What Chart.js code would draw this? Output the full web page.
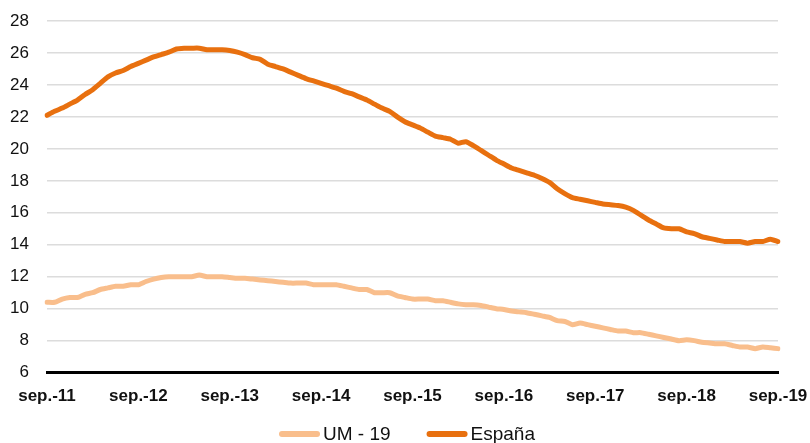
<!DOCTYPE html>
<html>
<head>
<meta charset="utf-8">
<script src="https://cdn.jsdelivr.net/npm/chart.js@4/dist/chart.umd.min.js"></script>
<style>
  html, body { margin: 0; padding: 0; background: #fff; }
  #wrap { width: 810px; height: 443px; }
</style>
</head>
<body>
<div id="wrap"><canvas id="grafico"></canvas></div>
<script>
// meses sep.-11 ... sep.-19
const mesesAbrev = ['sep.', 'oct.', 'nov.', 'dic.', 'ene.', 'feb.', 'mar.', 'abr.', 'may.', 'jun.', 'jul.', 'ago.'];
const anioInicio = 11;
const totalMeses = 97;

const um19 = [
  10.4, 10.4, 10.6, 10.7, 10.7, 10.9, 11.0, 11.2, 11.3, 11.4, 11.4, 11.5,
  11.5, 11.7, 11.85, 11.95, 12.0, 12.0, 12.0, 12.0, 12.1, 12.0, 12.0, 12.0,
  11.95, 11.9, 11.9, 11.85, 11.8, 11.75, 11.7, 11.65, 11.6, 11.6, 11.6, 11.5,
  11.5, 11.5, 11.5, 11.4, 11.3, 11.2, 11.2, 11.0, 11.0, 11.0, 10.8, 10.7,
  10.6, 10.6, 10.6, 10.5, 10.5, 10.4, 10.3, 10.25, 10.25, 10.2, 10.1, 10.0,
  9.95, 9.85, 9.8, 9.75, 9.65, 9.55, 9.45, 9.25, 9.2, 9.0, 9.1, 9.0,
  8.9, 8.8, 8.7, 8.6, 8.6, 8.5, 8.5, 8.4, 8.3, 8.2, 8.1, 8.0,
  8.05, 8.0, 7.9, 7.85, 7.8, 7.8, 7.7, 7.6, 7.6, 7.5, 7.6, 7.55,
  7.5
];

const espana = [
  22.1, 22.35, 22.55, 22.8, 23.05, 23.4, 23.7, 24.1, 24.5, 24.75, 24.9, 25.15,
  25.35, 25.55, 25.75, 25.9, 26.05, 26.25, 26.3, 26.3, 26.3, 26.2, 26.2, 26.2,
  26.15, 26.05, 25.9, 25.7, 25.6, 25.3, 25.15, 25.0, 24.8, 24.6, 24.4, 24.25,
  24.1, 23.95, 23.8, 23.6, 23.45, 23.25, 23.05, 22.8, 22.55, 22.35, 22.0, 21.7,
  21.5, 21.3, 21.05, 20.8, 20.7, 20.6, 20.35, 20.45, 20.2, 19.9, 19.6, 19.3,
  19.05, 18.8, 18.65, 18.5, 18.35, 18.15, 17.9, 17.5, 17.2, 16.95, 16.85, 16.75,
  16.65, 16.55, 16.5, 16.45, 16.35, 16.15, 15.85, 15.55, 15.3, 15.05, 15.0, 15.0,
  14.8, 14.7, 14.5, 14.4, 14.3, 14.2, 14.2, 14.2, 14.1, 14.2, 14.2, 14.35,
  14.2
];

// etiquetas mensuales
const etiquetas = [];
for (let i = 0; i < totalMeses; i++) {
  const anio = anioInicio + Math.floor((i + 8) / 12);
  etiquetas.push(mesesAbrev[i % 12] + '-' + anio);
}

// leyenda dibujada a mano para controlar los espacios
const leyenda = {
  id: 'leyenda',
  afterDraw(chart) {
    const c = chart.ctx;
    const y = 434;
    const largo = 41, hueco = 3, separacion = 36;
    c.save();
    c.font = '19px "Liberation Sans"';
    c.textBaseline = 'middle';
    const items = chart.data.datasets.map(ds => ({
      texto: ds.label, color: ds.borderColor, ancho: c.measureText(ds.label).width
    }));
    let total = 0;
    items.forEach((it, i) => { total += largo + hueco + it.ancho + (i > 0 ? separacion : 0); });
    let x = 407 - total / 2;
    items.forEach(it => {
      c.strokeStyle = it.color;
      c.lineWidth = 6;
      c.lineCap = 'round';
      c.beginPath();
      c.moveTo(x + 3, y);
      c.lineTo(x + largo - 3, y);
      c.stroke();
      c.fillStyle = '#111';
      c.fillText(it.texto, x + largo + hueco, y + 1);
      x += largo + hueco + it.ancho + separacion;
    });
    c.restore();
  }
};

const ctx = document.getElementById('grafico').getContext('2d');
const grafico = new Chart(ctx, {
  type: 'line',
  data: {
    labels: etiquetas,
    datasets: [
      {
        label: 'UM - 19',
        data: um19,
        borderColor: '#F9BE8C',
        backgroundColor: '#F9BE8C',
        borderWidth: 5,
        pointRadius: 0,
        tension: 0.2,
        borderCapStyle: 'round',
        borderJoinStyle: 'round'
      },
      {
        label: 'España',
        data: espana,
        borderColor: '#E8700F',
        backgroundColor: '#E8700F',
        borderWidth: 5,
        pointRadius: 0,
        tension: 0.2,
        borderCapStyle: 'round',
        borderJoinStyle: 'round'
      }
    ]
  },
  options: {
    responsive: true,
    maintainAspectRatio: false,
    animation: false,
    layout: { padding: { left: 9, right: 0, top: 21, bottom: 22 } },
    scales: {
      x: {
        offset: false,
        grid: { display: false, drawTicks: false },
        border: { display: true, color: '#000', width: 3 },
        ticks: {
          autoSkip: false,
          maxRotation: 0,
          padding: 14,
          color: '#111',
          font: { family: 'Liberation Sans', size: 17, weight: 'bold' },
          callback: function (valor, indice) {
            return indice % 12 === 0 ? this.getLabelForValue(valor) : '';
          }
        },
        afterFit: (eje) => { eje.paddingLeft = 30; eje.paddingRight = 32; }
      },
      y: {
        min: 6,
        max: 28,
        ticks: {
          stepSize: 2,
          padding: 18,
          color: '#111',
          font: { family: 'Liberation Sans', size: 17 }
        },
        grid: { color: '#DCDCDC', lineWidth: 1.5, drawTicks: false },
        border: { display: false },
        afterFit: (eje) => { eje.width = 38; eje.paddingTop = 0; eje.paddingBottom = 0; }
      }
    },
    plugins: {
      legend: { display: false },
      tooltip: { enabled: false }
    }
  },
  plugins: [leyenda]
});
</script>
</body>
</html>
